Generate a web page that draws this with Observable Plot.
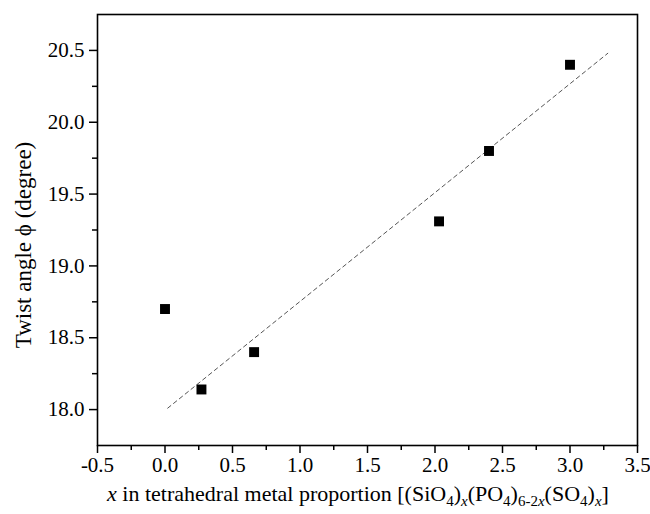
<!DOCTYPE html>
<html><head><meta charset="utf-8">
<script src="https://cdn.jsdelivr.net/npm/d3@7"></script>
<script src="https://cdn.jsdelivr.net/npm/@observablehq/plot@0.6"></script>
<style>
body{margin:0;background:#fff}
#chart{width:650px;height:514px}
#chart svg, #chart svg text, #chart svg tspan, #chart svg g { font-family: "Liberation Serif", "Times New Roman", "DejaVu Serif", serif !important; }
</style>
</head><body><div id="chart"></div>
<script>
const xValues = [0, 0.27, 0.66, 2.03, 2.40, 3.00];
const yValues = [18.70, 18.14, 18.40, 19.31, 19.80, 20.40];
const fitX = [0.02, 3.28];
const fitY = [18.01, 20.48];
const xTicks = [-0.5, 0, 0.5, 1, 1.5, 2, 2.5, 3, 3.5];
const xMinor = [-0.25, 0.25, 0.75, 1.25, 1.75, 2.25, 2.75, 3.25];
const yTicks = [18.0, 18.5, 19.0, 19.5, 20.0, 20.5];
const yMinor = [18.25, 18.75, 19.25, 19.75, 20.25];
const yLabel = "Twist angle ϕ (degree)";

const points = xValues.map((x, i) => ({x, y: yValues[i]}));
const fit = fitX.map((x, i) => ({x, y: fitY[i]}));
const fmt = d => d.toFixed(1);

const W = 650, H = 514;
const plot = Plot.plot({
  width: W, height: H,
  marginLeft: 97, marginRight: 13, marginTop: 14, marginBottom: 69,
  style: {fontSize: "21px", color: "#000", background: "#fff"},
  x: {domain: [-0.5, 3.5]},
  y: {domain: [17.75, 20.75]},
  marks: [
    Plot.axisX({ticks: xTicks, tickSize: 8, tickPadding: 4, tickFormat: fmt, label: null, strokeWidth: 1.5, fontSize: 21}),
    Plot.axisX({ticks: xMinor, tickSize: 5, text: null, label: null, strokeWidth: 1.5}),
    Plot.axisY({ticks: yTicks, tickSize: 8, tickPadding: 5, tickFormat: fmt, label: null, strokeWidth: 1.5, fontSize: 21}),
    Plot.axisY({ticks: yMinor, tickSize: 5, text: null, label: null, strokeWidth: 1.5}),
    Plot.frame({stroke: "#000", strokeWidth: 1.6}),
    Plot.line(fit, {x: "x", y: "y", stroke: "#555", strokeWidth: 1, strokeDasharray: "4,3.5"}),
    Plot.dot(points, {x: "x", y: "y", symbol: "square", r: 5.6, fill: "#000", stroke: "none"})
  ]
});
document.getElementById("chart").appendChild(plot);

const svg = d3.select(plot);
// y axis label
svg.append("text")
  .attr("transform", `translate(31,245) rotate(-90)`)
  .attr("text-anchor", "middle")
  .attr("font-size", 23)
  .attr("fill", "#000")
  .text(yLabel);

// x axis label with subscripts
const xl = svg.append("text")
  .attr("x", 358).attr("y", 501)
  .attr("text-anchor", "middle")
  .attr("font-size", 22)
  .attr("fill", "#000");
const parts = [
  ["x", "i", false], [" in tetrahedral metal proportion [(SiO", "n", false], ["4", "n", true],
  [")", "n", false], ["x", "i", true], ["(PO", "n", false], ["4", "n", true], [")", "n", false],
  ["6-2", "n", true], ["x", "i", true], ["(SO", "n", false], ["4", "n", true], [")", "n", false],
  ["x", "i", true], ["]", "n", false]
];
let prevSub = false;
parts.forEach(([t, style, sub]) => {
  const ts = xl.append("tspan").text(t);
  if (style === "i") ts.attr("font-style", "italic");
  if (sub) { ts.attr("font-size", 15); }
  if (sub && !prevSub) ts.attr("dy", 5);
  if (!sub && prevSub) ts.attr("dy", -5);
  prevSub = sub;
});
</script>
</body></html>
